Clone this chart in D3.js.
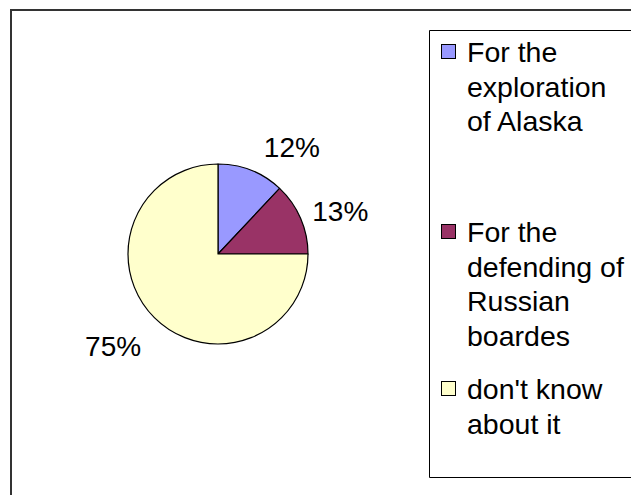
<!DOCTYPE html>
<html>
<head>
<meta charset="utf-8">
<script src="https://cdn.jsdelivr.net/npm/d3@7/dist/d3.min.js"></script>
<style>
  html, body { margin: 0; padding: 0; background: #fff; }
  svg { display: block; }
  text { font-family: "Liberation Sans", Arial, sans-serif; fill: #000; }
</style>
</head>
<body>
<svg id="chart" width="631" height="495"></svg>
<script>
// Survey answers, share of respondents (percent)
const categories = [
  "For the exploration of Alaska",
  "For the defending of Russian boardes",
  "don't know about it"
];
const values = [12, 13, 75];
const colors = ["#9999FF", "#993366", "#FFFFCC"];
// Legend entries wrapped into lines as they appear in the legend box
const legendLines = [
  ["For the", "exploration", "of Alaska"],
  ["For the", "defending of", "Russian", "boardes"],
  ["don't know", "about it"]
];

const W = 631, H = 495;
const svg = d3.select("#chart");

// Chart area frame (runs off the right and bottom edges)
svg.append("path")
  .attr("d", `M11,${H + 5} V10 H${W + 5}`)
  .attr("fill", "none")
  .attr("stroke", "#333")
  .attr("stroke-width", 2);

// Pie
const cx = 218, cy = 254, r = 90;
const pie = d3.pie().sort(null).value(d => d)
  .startAngle(0).endAngle(2 * Math.PI);
const arcs = pie(values);
const arc = d3.arc().innerRadius(0).outerRadius(r);
const labelArc = d3.arc().innerRadius(130).outerRadius(130);

const g = svg.append("g").attr("transform", `translate(${cx},${cy})`);
g.selectAll("path.slice")
  .data(arcs)
  .join("path")
  .attr("class", "slice")
  .attr("d", arc)
  .attr("fill", (d, i) => colors[i])
  .attr("stroke", "#000")
  .attr("stroke-width", 1.2)
  .attr("stroke-linejoin", "round");

// Percentage labels outside the slices (best-fit nudges)
const labelNudge = [[26, 14], [3, 9], [-13, 1]];
g.selectAll("text.pct")
  .data(arcs)
  .join("text")
  .attr("class", "pct")
  .attr("x", (d, i) => labelArc.centroid(d)[0] + labelNudge[i][0])
  .attr("y", (d, i) => labelArc.centroid(d)[1] + labelNudge[i][1])
  .attr("text-anchor", "middle")
  .attr("dominant-baseline", "central")
  .attr("font-size", 28)
  .text(d => d.data + "%");

// Legend box (runs off the right edge)
svg.append("path")
  .attr("d", `M${W + 5},30.5 H429.5 V477.5 H${W + 5}`)
  .attr("fill", "none")
  .attr("stroke", "#000")
  .attr("stroke-width", 1);

const legendFirstBaseline = [62, 242, 399];
const lineStep = 34.5;
const legend = svg.append("g");
legendLines.forEach((lines, i) => {
  const base = legendFirstBaseline[i];
  legend.append("rect")
    .attr("x", 441.5).attr("y", base - 17.5)
    .attr("width", 14).attr("height", 14)
    .attr("fill", colors[i])
    .attr("stroke", "#000")
    .attr("stroke-width", 1);
  const t = legend.append("text")
    .attr("x", 467)
    .attr("y", base)
    .attr("font-size", 28.5);
  lines.forEach((ln, k) => {
    t.append("tspan")
      .attr("x", 467)
      .attr("y", base + k * lineStep)
      .text(ln);
  });
});
</script>
</body>
</html>
